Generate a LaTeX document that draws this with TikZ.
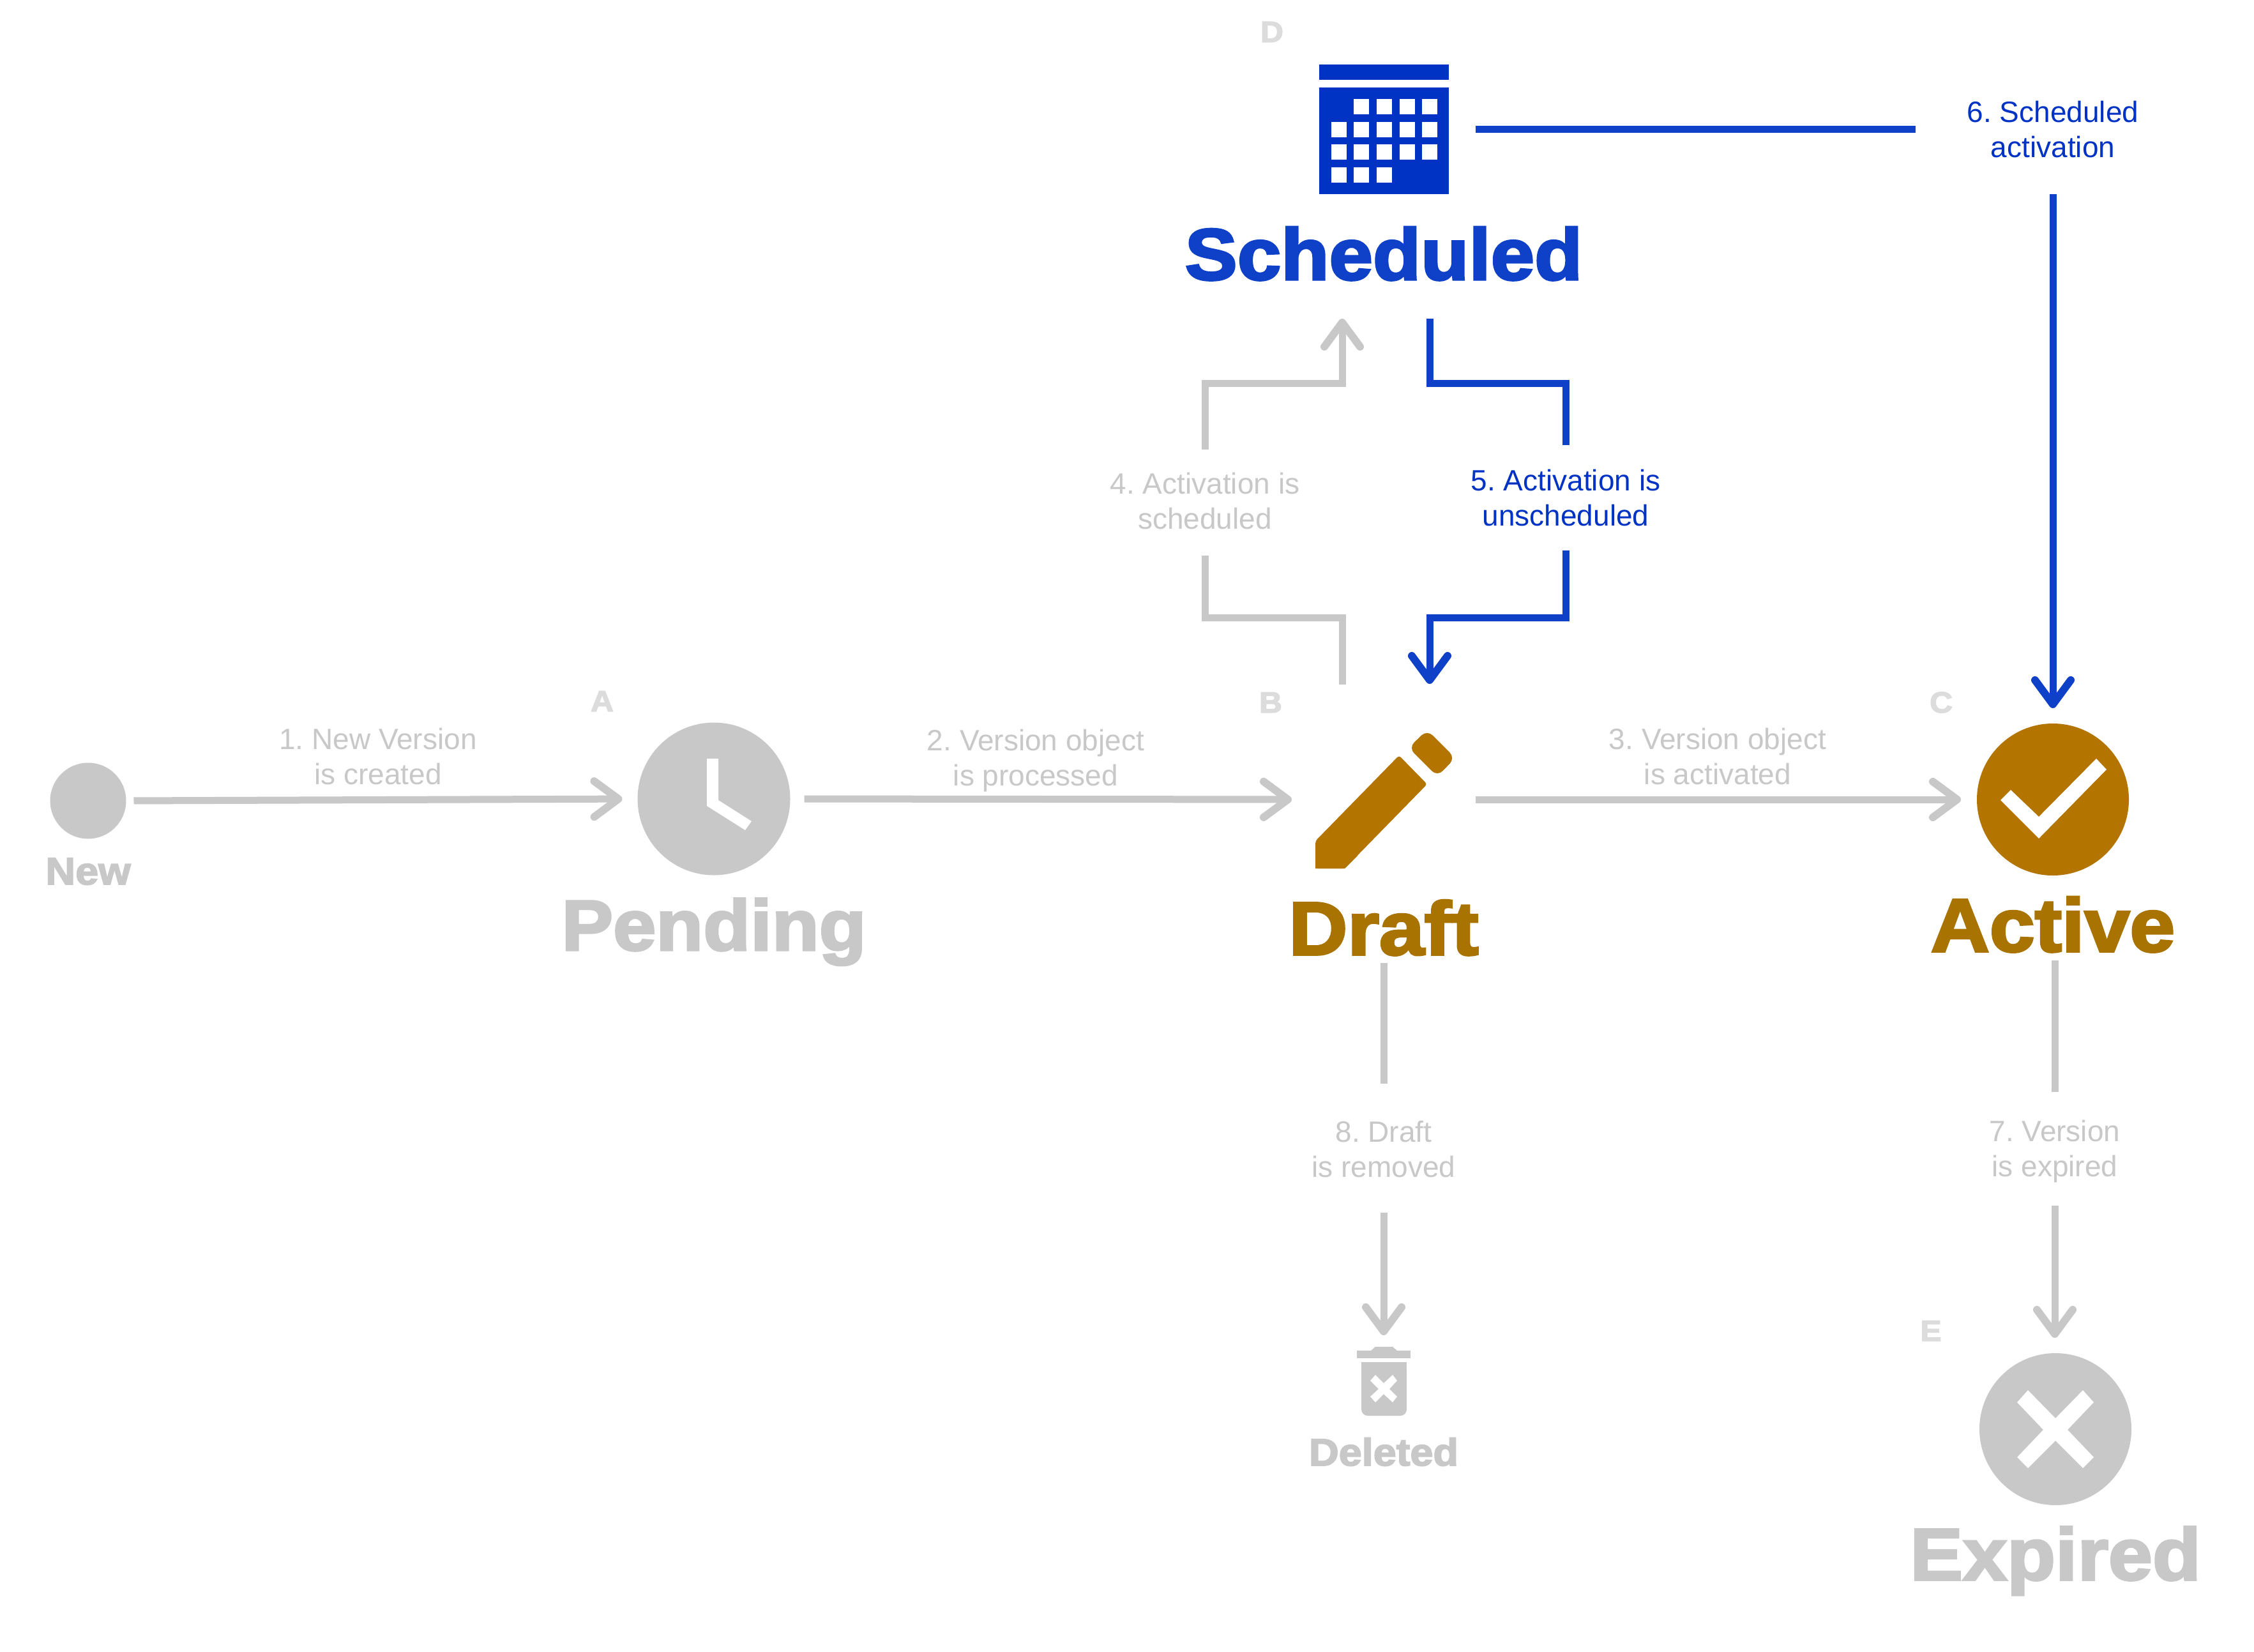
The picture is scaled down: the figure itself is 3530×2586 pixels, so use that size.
\documentclass[tikz,border=0pt]{standalone}
\usepackage{fontspec}
\usetikzlibrary{arrows.meta}
\setmainfont{Liberation Sans}
\newfontfamily\heavy[FakeBold=3,FakeStretch=1.08]{Liberation Sans Bold}
\definecolor{gr}{HTML}{C8C8C8}
\definecolor{ltr}{HTML}{DCDCDC}
\definecolor{bl}{HTML}{0F41C8}
\definecolor{blt}{HTML}{0033C4}
\definecolor{br}{HTML}{B37400}
\definecolor{brt}{HTML}{A87300}
\tikzset{
  ln/.style={line width=11pt,line cap=butt,line join=miter},
  gline/.style={ln,draw=gr},
  bline/.style={ln,draw=bl},
  tip/.style={-{Straight Barb[length=38pt,width=56pt,line width=12pt,round]}},
  stat/.style={inner sep=0pt,outer sep=0pt,anchor=base,font=\heavy\fontsize{#1}{#1}\selectfont},
  stat/.default=112,
  small/.style={inner sep=0pt,outer sep=0pt,anchor=base,font=\heavy\fontsize{60}{60}\selectfont},
  letter/.style={inner sep=0pt,outer sep=0pt,text=ltr,font=\heavy\fontsize{46}{46}\selectfont},
  lab/.style={inner sep=0pt,outer sep=0pt,align=center,text=gr,font=\frenchspacing\fontsize{46}{55}\selectfont},
  disc/.style={circle,inner sep=0pt,outer sep=0pt,fill=#1},
  box/.style={rectangle,inner sep=0pt,outer sep=0pt},
  cell/.style={fill=white,draw=none},
}
\begin{document}
\begin{tikzpicture}[x=1pt,y=-1pt]
\useasboundingbox (0,0) rectangle (3530,2586);
\fill[white] (0,0) rectangle (3530,2586);

% icons
\node[disc=gr,minimum size=119pt] (newc) at (138,1254) {};
\node[disc=gr,minimum size=239pt] (pendc) at (1118,1251) {};
\node[disc=br,minimum size=238pt] (actc) at (3215,1252) {};
\node[disc=gr,minimum size=238pt] (expc) at (3219,2238) {};
\node[box,minimum width=218pt,minimum height=216pt] (draftc) at (2166,1252) {};
\node[box,minimum width=203pt,minimum height=203pt] (cal) at (2167.5,202.5) {};
\node[box,minimum width=84pt,minimum height=108pt] (del) at (2167,2163) {};

% clock hand
\fill[white] (1107,1188)--(1125,1188)--(1125,1253)--(1177,1286)--(1167,1300)--(1107,1262)--cycle;
% check
\fill[white] (3283,1188)--(3299,1205)--(3193,1313)--(3133,1253)--(3149,1237)--(3193,1279)--cycle;
% cross
\fill[white] (3176,2177)--(3159,2196)--(3200,2239)--(3159,2282)--(3176,2299)--(3219,2256)--(3262,2299)--(3279,2282)--(3238,2239)--(3279,2196)--(3262,2177)--(3219,2221)--cycle;
% pencil
\fill[br,rounded corners=4pt] (2191,1183)--(2060,1317)--(2060,1360)--(2106,1360)--(2235,1228)--cycle;
\fill[br] (2060,1340)--(2060,1360)--(2106,1360)--(2126,1340)--cycle;
\fill[br,rounded corners=12pt] (2235,1143)--(2206,1171)--(2251,1216)--(2279,1187)--cycle;
% calendar
\fill[blt] (2066,101) rectangle (2269,125);
\fill[blt] (2066,137) rectangle (2269,304);
\foreach \a/\b in {2120/155,2156/155,2192/155,2227/155,
  2085/191,2120/191,2156/191,2192/191,2227/191,
  2085/226,2120/226,2156/226,2192/226,2227/226,
  2085/262,2120/262,2156/262}
  \fill[cell] (\a,\b) rectangle ++(24,24);
% trash
\fill[gr] (2125,2115) rectangle (2209,2127);
\fill[gr] (2146,2116)--(2154,2109)--(2181,2109)--(2189,2116)--cycle;
\fill[gr,rounded corners=10pt] (2132,2140) -- (2132,2217) -- (2203,2217) -- (2203,2140) -- cycle;
\fill[gr] (2132,2133) rectangle (2203,2160);
\fill[white] (2154,2153)--(2146,2162)--(2159,2175)--(2146,2187)--(2154,2196)--(2167,2183)--(2181,2196)--(2188,2187)--(2176,2175)--(2188,2162)--(2181,2153)--(2167,2166)--cycle;

% state names
\node[small,text=gr] (newt) at (138,1385) {New};
\node[stat,text=gr] (pendt) at (1118,1488) {Pending};
\node[stat=118,text=brt] (draftt) at (2167,1495) {Draft};
\node[stat=118,text=brt] (actt) at (3215,1490) {Active};
\node[stat=115,text=gr] (expt) at (3219,2474) {Expired};
\node[stat=114,text=bl] (schedt) at (2167,438) {Scheduled};
\node[small,text=gr] (delt) at (2167,2295) {Deleted};

% letters
\node[letter] (la) at (943,1098) {A};
\node[letter] (lb) at (1990,1100) {B};
\node[letter] (lc) at (3040,1100) {C};
\node[letter] (ld) at (1992,50) {D};
\node[letter] (le) at (3024,2084) {E};

% edge labels
\node[lab] (l1) at (592,1185) {1. New Version\\is created};
\node[lab] (l2) at (1622,1191) {2. Version object\\is processed};
\node[lab] (l3) at (2690,1185) {3. Version object\\is activated};
\node[lab,minimum width=300pt,minimum height=166pt] (l4) at (1887,785) {4. Activation is\\scheduled};
\node[lab,text=blt,minimum width=300pt,minimum height=165pt] (l5) at (2452,779.5) {5. Activation is\\unscheduled};
\node[lab,text=blt,minimum width=430pt,minimum height=202pt] (l6) at (3215,203) {6. Scheduled\\activation};
\node[lab,minimum width=260pt,minimum height=178pt] (l7) at (3218,1803.5) {7. Version\\is expired};
\node[lab,minimum width=260pt,minimum height=202pt] (l8) at (2167,1800) {8. Draft\\is removed};

% waypoints
\coordinate (a4) at (2102,1072);
\coordinate (b4) at (1887,967);
\coordinate (c4) at (2102,600);
\coordinate (e4) at (2102,499);
\coordinate (s5) at (2239,499);
\coordinate (c5) at (2452,600);
\coordinate (b5) at (2239,967);
\coordinate (e5) at (2239,1071);

% connectors
\draw[gline,tip,shorten <=12pt,shorten >=24pt] (newc.east) -- (pendc.west);
\draw[gline,tip,shorten <=22pt,shorten >=34pt] (pendc.east) -- (draftc.west);
\draw[gline,tip,shorten <=36pt,shorten >=25pt] (draftc.east) -- (actc.west);
\draw[gline,shorten >=2pt] (a4) |- (b4) -- (l4.south);
\draw[gline,tip,shorten <=-2pt] (l4.north) |- (c4) -- (e4);
\draw[bline] (s5) |- (c5) -- (l5.north);
\draw[bline,tip] (l5.south) |- (b5) -- (e5);
\draw[bline,shorten <=42pt] (cal.east) -- (l6.west |- cal.east);
\draw[bline,tip,shorten >=24pt] (l6.south) -- (actc.north);
\draw[gline,shorten <=12pt,shorten >=2pt] (draftt.south) -- (l8.north);
\draw[gline,tip,shorten <=-2pt,shorten >=18pt] (l8.south) -- (del.north);
\draw[gline,shorten <=13pt,shorten >=4.5pt] (actt.south -| l7.north) -- (l7.north);
\draw[gline,tip,shorten <=-4.5pt,shorten >=24pt] (l7.south) -- (expc.north -| l7.south);
\end{tikzpicture}
\end{document}
